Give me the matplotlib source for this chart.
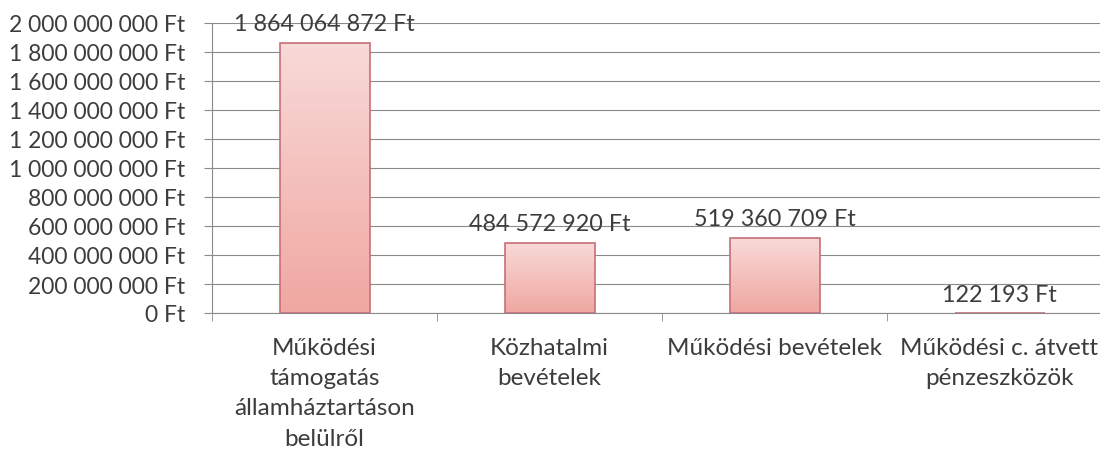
import matplotlib.pyplot as plt
import numpy as np
from matplotlib.colors import LinearSegmentedColormap
from matplotlib.ticker import FuncFormatter

categories = [
    "Működési\ntámogatás\nállamháztartáson\nbelülről",
    "Közhatalmi\nbevételek",
    "Működési bevételek",
    "Működési c. átvett\npénzeszközök",
]
values = [1864064872, 484572920, 519360709, 122193]
y_ticks = [0, 200000000, 400000000, 600000000, 800000000, 1000000000,
           1200000000, 1400000000, 1600000000, 1800000000, 2000000000]

TEXT = "#3d3d3d"
GRID = "#8a8a8a"


def huf(v, _pos=None):
    return f"{int(round(v)):,} Ft".replace(",", " ")


def main():
    plt.rcParams["font.family"] = ["Lato", "DejaVu Sans"]
    fig = plt.figure(figsize=(11, 4.56), dpi=100)
    ax = fig.add_axes([212 / 1100, 1 - 314 / 456, 900 / 1100, 290 / 456])

    x = np.arange(len(values))
    width = 0.4
    cmap = LinearSegmentedColormap.from_list("bar", ["#f0a7a1", "#f8dad8"])
    grad = np.linspace(0, 1, 256).reshape(-1, 1)
    bars = ax.bar(x, values, width=width, facecolor="none",
                  edgecolor="#c76f78", linewidth=1.2, zorder=3)
    for b in bars:
        x0, y0 = b.get_x(), b.get_y()
        im = ax.imshow(grad, extent=[x0, x0 + b.get_width(), y0, y0 + b.get_height()],
                       origin="lower", aspect="auto", cmap=cmap, zorder=2)
        im.set_clip_path(b)

    for xi, v in zip(x, values):
        ax.annotate(huf(v), (xi, v), xytext=(0, 6), textcoords="offset points",
                    ha="center", va="bottom", fontsize=16.8, color=TEXT, zorder=4)

    ax.set_xlim(-0.5, len(values) - 0.5)
    ax.set_ylim(0, 2000000000)
    ax.set_yticks(y_ticks)
    ax.yaxis.set_major_formatter(FuncFormatter(huf))
    ax.yaxis.grid(True, color=GRID, linewidth=0.8, zorder=0)
    ax.set_axisbelow(True)

    ax.set_xticks(x)
    ax.set_xticklabels(categories, fontsize=17.5, color=TEXT, linespacing=1.55)
    ax.set_xticks(np.arange(len(values) + 1) - 0.5, minor=True)
    ax.tick_params(axis="x", which="major", length=0, pad=17)
    ax.tick_params(axis="x", which="minor", length=6, color=GRID, direction="out")
    ax.tick_params(axis="y", length=6, color=GRID, pad=13, labelsize=16.5, labelcolor=TEXT)

    for side in ["top", "right"]:
        ax.spines[side].set_visible(False)
    ax.spines["left"].set_color(GRID)
    ax.spines["bottom"].set_color(GRID)

    fig.savefig("out.png", dpi=100)


if __name__ == "__main__":
    main()
